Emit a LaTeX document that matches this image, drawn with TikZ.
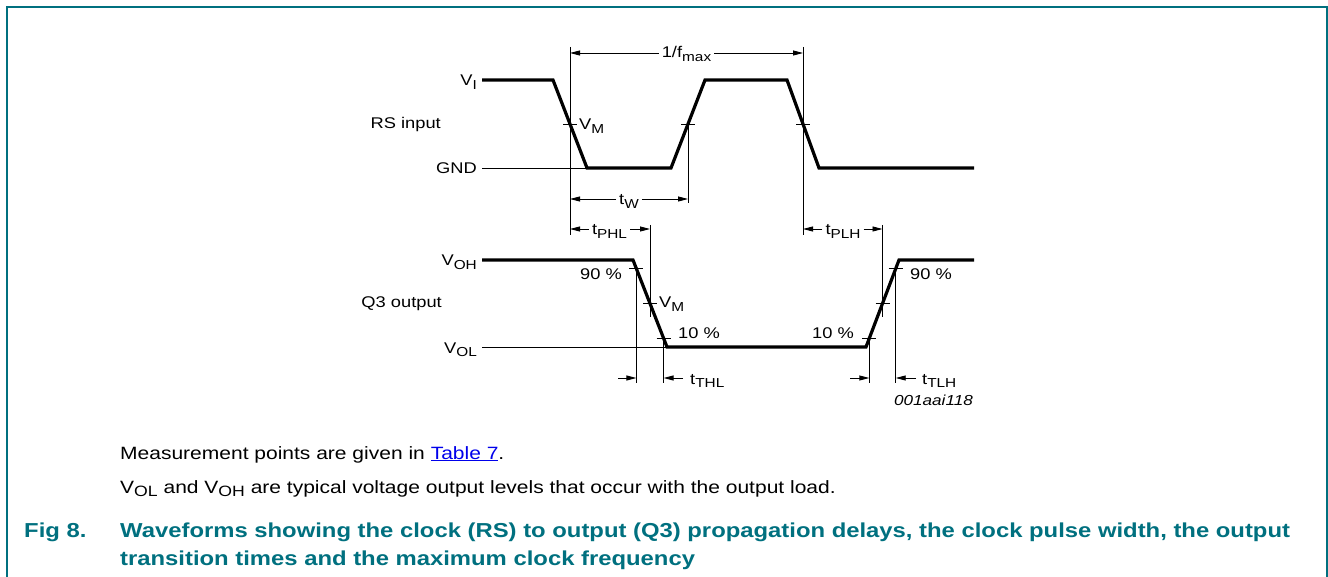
\documentclass[tikz,border=0pt]{standalone}
\usepackage{fontspec}
\setmainfont{Liberation Sans}[FakeStretch=1.18]
\usetikzlibrary{arrows.meta,calc}
\definecolor{teal8}{RGB}{0,112,127}
\definecolor{linkblue}{RGB}{0,0,235}
\newcommand{\lowsub}[1]{\raisebox{-0.22em}{\scalebox{0.84}{#1}}}
\newcommand{\dfont}{\fontsize{15.5}{18}\selectfont}
\newcommand{\bfont}{\fontsize{17.8}{21}\selectfont}
\newcommand{\cfont}{\fontsize{20.2}{28}\selectfont\bfseries}
\begin{document}
\begin{tikzpicture}[x=1pt,y=-1pt,font=\dfont,
  wave/.style={line width=3.2pt},
  thinl/.style={line width=0.9pt},
  arr/.style={line width=0.9pt,-{Triangle[length=10pt,width=5pt]}},
  lbl/.style={inner sep=0pt},
  dim/.style={inner sep=3pt}]
\useasboundingbox (0,0) rectangle (1328,577);
% frame
\draw[teal8,line width=2pt] (6.7,580) -- (6.7,7) -- (1327,7) -- (1327,580);
% ---------- input waveform ----------
\coordinate (i0) at (482,80);
\coordinate (i1) at (553,80);
\coordinate (i2) at (587,168);
\coordinate (i3) at (671,168);
\coordinate (i4) at (705,80);
\coordinate (i5) at (787,80);
\coordinate (i6) at (819,168);
\coordinate (i7) at (974,168);
\coordinate (g0) at (482,168);
\coordinate (m1) at ($(i1)!0.5!(i2)$);
\coordinate (m2) at ($(i3)!0.5!(i4)$);
\coordinate (m3) at ($(i5)!0.5!(i6)$);
\draw[thinl] (g0) -- (i2);
\draw[wave] (i0) -- (i1) -- (i2) -- (i3) -- (i4) -- (i5) -- (i6) -- (i7);
% ---------- output waveform ----------
\coordinate (o0) at (482,260);
\coordinate (o1) at (633,260);
\coordinate (o2) at (667,347);
\coordinate (o3) at (866,347);
\coordinate (o4) at (899,260);
\coordinate (o5) at (974,260);
\coordinate (l0) at (482,347);
\coordinate (f9) at ($(o1)!0.1!(o2)$);
\coordinate (f5) at ($(o1)!0.5!(o2)$);
\coordinate (f1) at ($(o1)!0.9!(o2)$);
\coordinate (r1) at ($(o3)!0.1!(o4)$);
\coordinate (r5) at ($(o3)!0.5!(o4)$);
\coordinate (r9) at ($(o3)!0.9!(o4)$);
\draw[thinl] (l0) -- (o2);
\draw[wave] (o0) -- (o1) -- (o2) -- (o3) -- (o4) -- (o5);
% ticks
\foreach \p in {m1,m2,m3,f9,f5,f1,r1,r5,r9}
  \draw[thinl] ([xshift=-7pt]\p) -- ([xshift=7pt]\p);
% reference y levels
\coordinate (ytop) at (0,47);
\coordinate (yB) at (0,235);
\coordinate (yW) at (0,203);
\coordinate (yP) at (0,225);
\coordinate (yQ) at (0,317);
\coordinate (yT) at (0,383);
\coordinate (yF) at (0,53);
\coordinate (yWa) at (0,199);
\coordinate (yPa) at (0,229);
\coordinate (yTa) at (0,378);
% vertical reference lines
\draw[thinl] (m1|-ytop) -- (m1|-yB);
\draw[thinl] (m3|-ytop) -- (m3|-yB);
\draw[thinl] (m2) -- (m2|-yW);
\draw[thinl] (f5|-yP) -- (f5|-yQ);
\draw[thinl] (r5|-yP) -- (r5|-yQ);
\foreach \p in {f9,f1,r1,r9}
  \draw[thinl] (\p) -- (\p|-yT);
% ---------- level labels ----------
\node[lbl,anchor=base east] (vi) at (477,86) {V\lowsub{I}};
\node[lbl,anchor=base east] (rs) at (441,129) {RS input};
\node[lbl,anchor=base east] (gnd) at (477,174) {GND};
\node[lbl,anchor=base west] (vm1) at (579,130) {V\lowsub{M}};
\node[lbl,anchor=base east] (voh) at (477,266) {V\lowsub{OH}};
\node[lbl,anchor=base east] (q3) at (442,308) {Q3 output};
\node[lbl,anchor=base east] (vol) at (477,353) {V\lowsub{OL}};
\node[lbl,anchor=base east] (p90a) at (622,280) {90 \%};
\node[lbl,anchor=base west] (vm2) at (659,308) {V\lowsub{M}};
\node[lbl,anchor=base west] (p10a) at (678,338) {10 \%};
\node[lbl,anchor=base east] (p10b) at (854,338) {10 \%};
\node[lbl,anchor=base west] (p90b) at (910,280) {90 \%};
\node[lbl,anchor=base east,font=\fontsize{14.5}{17}\selectfont\itshape] (id) at (973,405) {001aai118};
% ---------- dimension arrows ----------
\node[dim,anchor=base] (fmax) at (686.5,58) {1/f\lowsub{max}};
\draw[arr] (fmax.west|-yF) -- (m1|-yF);
\draw[arr] (fmax.east|-yF) -- (m3|-yF);
\node[dim,anchor=base] (tw) at (629,205) {t\lowsub{W}};
\draw[arr] (tw.west|-yWa) -- (m1|-yWa);
\draw[arr] (tw.east|-yWa) -- (m2|-yWa);
\node[dim,anchor=base] (tphl) at (609.5,235) {t\lowsub{PHL}};
\draw[arr] (tphl.west|-yPa) -- (m1|-yPa);
\draw[arr] (tphl.east|-yPa) -- (f5|-yPa);
\node[dim,anchor=base] (tplh) at (843,235) {t\lowsub{PLH}};
\draw[arr] (tplh.west|-yPa) -- (m3|-yPa);
\draw[arr] (tplh.east|-yPa) -- (r5|-yPa);
\coordinate (thlA) at (618,378);
\coordinate (thlB) at (683,378);
\draw[arr] (thlA) -- (f9|-yTa);
\draw[arr] (thlB) -- (f1|-yTa);
\node[lbl,anchor=base west] (tthl) at (690,384) {t\lowsub{THL}};
\coordinate (tlhA) at (850,378);
\coordinate (tlhB) at (916,378);
\draw[arr] (tlhA) -- (r1|-yTa);
\draw[arr] (tlhB) -- (r9|-yTa);
\node[lbl,anchor=base west] (ttlh) at (922,384) {t\lowsub{TLH}};
% ---------- notes and caption ----------
\node[lbl,anchor=base west,font=\bfont] (n1) at (120,459)
  {Measurement points are given in \textcolor{linkblue}{\underline{Table 7}}.};
\node[lbl,anchor=base west,font=\bfont] (n2) at (120,493)
  {V\lowsub{OL} and V\lowsub{OH} are typical voltage output levels that occur with the output load.};
\node[lbl,anchor=base west,font=\cfont,text=teal8] (fig) at (24,537) {Fig 8.};
\node[lbl,anchor=base west,font=\cfont,text=teal8] (c1) at (120,537)
  {Waveforms showing the clock (RS) to output (Q3) propagation delays, the clock pulse width, the output};
\node[lbl,anchor=base west,font=\cfont,text=teal8] (c2) at (120,565)
  {transition times and the maximum clock frequency};
\end{tikzpicture}
\end{document}
